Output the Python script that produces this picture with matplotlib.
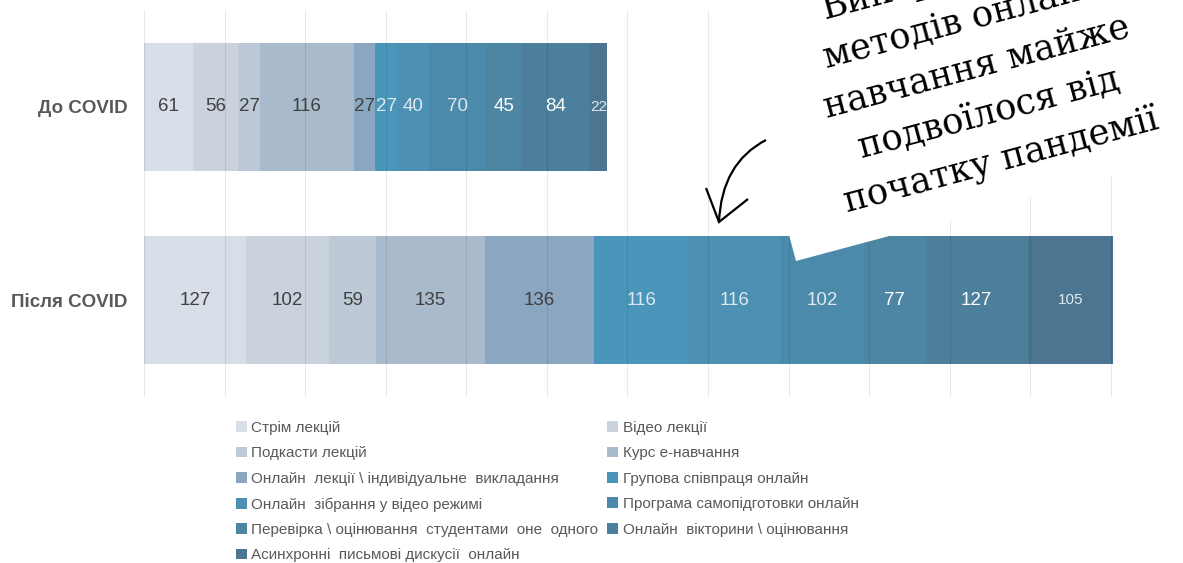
import matplotlib
matplotlib.use('Agg')
import matplotlib.pyplot as plt
from matplotlib.patches import Polygon, Patch, PathPatch
from matplotlib.path import Path
import numpy as np

W, H = 1183, 563
plt.rcParams['font.family'] = ['Liberation Sans', 'DejaVu Sans']

categories = ['Після COVID', 'До COVID']
series = [
    'Стрім лекцій',
    'Відео лекції',
    'Подкасти лекцій',
    'Курс е-навчання',
    'Онлайн  лекції \\ індивідуальне  викладання',
    'Групова співпраця онлайн',
    'Онлайн  зібрання у відео режимі',
    'Програма самопідготовки онлайн',
    'Перевірка \\ оцінювання  студентами  оне  одного',
    'Онлайн  вікторини \\ оцінювання',
    'Асинхронні  письмові дискусії  онлайн',
]
before = [61, 56, 27, 116, 27, 27, 40, 70, 45, 84, 22]
after = [127, 102, 59, 135, 136, 116, 116, 102, 77, 127, 105]
colors = ['#d7dee7', '#cad2dd', '#bdc9d6', '#a9bacc', '#8ba6c0',
          '#4a96bb', '#4c90b3', '#4c8aab', '#4d86a3', '#4b7f9b', '#4b7590']
label_colors = ['#404040'] * 5 + ['#dfe8ef'] * 3 + ['#ffffff'] * 2 + ['#e3eaf0']
label_sizes = [13.5] * 10 + [11]
callout_lines = ['Використання', 'методів онлайн', 'навчання майже',
                 'подвоїлося від', 'початку пандемії']

fig = plt.figure(figsize=(W / 100, H / 100), dpi=100)
ax = fig.add_axes([144 / W, 1 - 397 / H, 975 / W, 387 / H])

left = np.zeros(2)
for i, name in enumerate(series):
    vals = np.array([after[i], before[i]], dtype=float)
    bars = ax.barh([0, 1], vals, left=left, height=0.66, color=colors[i],
                   label=name, zorder=2, linewidth=0)
    ax.bar_label(bars, labels=[str(int(v)) for v in vals], label_type='center',
                 color=label_colors[i], fontsize=label_sizes[i], zorder=4)
    left += vals

ax.set_xlim(0, 1210)
ax.set_ylim(-0.5, 1.5)
ax.set_xticks(np.arange(0, 1201, 100))
ax.tick_params(axis='x', length=0, labelbottom=False)
ax.set_yticks([0, 1])
ax.set_yticklabels(categories, fontsize=13.5, fontweight='bold', color='#595959')
ax.tick_params(axis='y', length=0, pad=12)
ax.grid(axis='x', color='black', alpha=0.085, lw=0.8)
ax.grid(axis='y', visible=False)
ax.set_axisbelow(False)
for s in ax.spines.values():
    s.set_visible(False)

handles = [Patch(facecolor=c, edgecolor='none') for c in colors]
order = [0, 2, 4, 6, 8, 10, 1, 3, 5, 7, 9]
fig.legend([handles[k] for k in order], [series[k] for k in order],
           loc='upper left', bbox_to_anchor=(236 / W, 1 - 421 / H),
           ncol=2, frameon=False, fontsize=11, labelcolor='#595959',
           handlelength=0.7, handleheight=0.7, handletextpad=0.3,
           columnspacing=0.6, labelspacing=0.745, borderpad=0, borderaxespad=0)


def P(x, y):
    return (x / W, 1 - y / H)


# speech bubble
ang = np.deg2rad(15)
d_along = np.array([np.cos(ang), -np.sin(ang)])
d_up = np.array([-np.sin(ang), -np.cos(ang)])
A = np.array([796.0, 261.0])
B = A + 700 * d_along
D = A + 700 * d_up
C = B + 700 * d_up
bubble = Polygon([P(*A), P(*B), P(*C), P(*D)], closed=True, facecolor='white',
                 edgecolor='none', transform=fig.transFigure, zorder=10)
fig.add_artist(bubble)

base = np.array([1001.0, 160.0])
for k, line in enumerate(reversed(callout_lines)):
    c = base + 48 * k * d_up
    fig.text(*P(*c), line, rotation=15, rotation_mode='anchor', ha='center',
             va='center', fontsize=25.5, family='DejaVu Serif', color='black', zorder=11)

# arrow
verts = [P(766, 140), P(721.5, 163), P(719, 222)]
arrow = PathPatch(Path(verts, [Path.MOVETO, Path.CURVE3, Path.CURVE3]),
                  facecolor='none', edgecolor='black', lw=1.6,
                  transform=fig.transFigure, zorder=12)
fig.add_artist(arrow)
head = Path([P(706, 188), P(719, 222), P(748, 199)],
            [Path.MOVETO, Path.LINETO, Path.LINETO])
fig.add_artist(PathPatch(head, facecolor='none', edgecolor='black', lw=1.6,
                         transform=fig.transFigure, zorder=12))

fig.savefig('out.png', dpi=100)
